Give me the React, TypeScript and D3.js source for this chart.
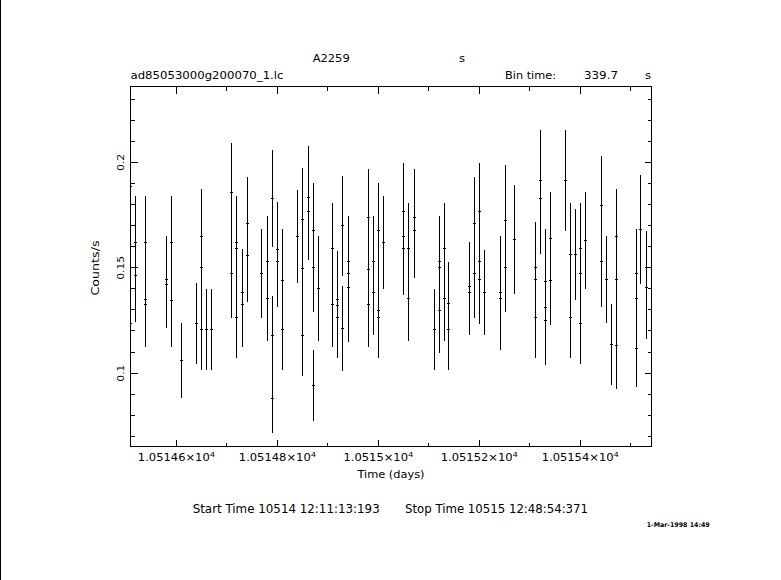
import React from "react";
import * as d3 from "d3";

const W = 781;
const H = 580;

// ---- data ----
const times: number[] = [
  10514.5095, 10514.5095, 10514.5192, 10514.5192, 10514.5192, 10514.539, 10514.539, 10514.539,
  10514.5798, 10514.5798, 10514.5897, 10514.5897, 10514.6095, 10514.6392, 10514.6491, 10514.6491,
  10514.6491, 10514.659, 10514.6689, 10514.7086, 10514.7086, 10514.7185, 10514.7185, 10514.7185,
  10514.7304, 10514.7304, 10514.7403, 10514.7403, 10514.768, 10514.7799, 10514.7799, 10514.7898,
  10514.7898, 10514.7898, 10514.7997, 10514.7997, 10514.8096, 10514.8096, 10514.8393, 10514.8496,
  10514.8496, 10514.8496, 10514.8611, 10514.8611, 10514.871, 10514.871, 10514.871, 10514.8809,
  10514.9087, 10514.9087, 10514.9186, 10514.9186, 10514.9186, 10514.9285, 10514.9285, 10514.9404,
  10514.9404, 10514.9404, 10514.98, 10514.98, 10514.98, 10514.9899, 10514.9899, 10514.9998,
  10514.9998, 10514.9998, 10515.0097, 10515.0493, 10515.0493, 10515.0493, 10515.0592, 10515.0592,
  10515.0711, 10515.0711, 10515.1108, 10515.1207, 10515.1207, 10515.1207, 10515.1306, 10515.1306,
  10515.1385, 10515.1385, 10515.1801, 10515.1801, 10515.19, 10515.19, 10515.1999, 10515.1999,
  10515.1999, 10515.2098, 10515.2415, 10515.2415, 10515.2514, 10515.2514, 10515.2692, 10515.3108,
  10515.3108, 10515.3108, 10515.3207, 10515.3207, 10515.3306, 10515.3306, 10515.3306, 10515.3405,
  10515.3405, 10515.3703, 10515.3802, 10515.3802, 10515.3901, 10515.4, 10515.4, 10515.4,
  10515.4099, 10515.4416, 10515.4416, 10515.4515, 10515.4614, 10515.4713, 10515.4713, 10515.4713,
  10515.5109, 10515.5109, 10515.5109, 10515.5188, 10515.5307, 10515.5307,
];

const rates: number[] = [
  0.1886, 0.1235, 0.1619, 0.1501, 0.1463, 0.1619, 0.1349, 0.1325,
  0.1445, 0.142, 0.1619, 0.1344, 0.106, 0.1235, 0.1649, 0.1501,
  0.1207, 0.1207, 0.1207, 0.1858, 0.1474, 0.1619, 0.1591, 0.1262,
  0.1382, 0.1325, 0.1709, 0.1558, 0.1474, 0.1529, 0.1354, 0.1828,
  0.1179, 0.088, 0.1588, 0.1529, 0.1439, 0.1207, 0.1649, 0.173,
  0.1496, 0.1179, 0.1833, 0.1766, 0.1676, 0.1501, 0.0942, 0.1401,
  0.1591, 0.1325, 0.1349, 0.1321, 0.1264, 0.17, 0.1212, 0.1529,
  0.1472, 0.1406, 0.1738, 0.1491, 0.1325, 0.1529, 0.1382, 0.1676,
  0.1297, 0.1264, 0.1619, 0.1766, 0.1648, 0.1591, 0.1591, 0.1354,
  0.1738, 0.1676, 0.1207, 0.1529, 0.1501, 0.1297, 0.1591, 0.1354,
  0.133, 0.1207, 0.1411, 0.1382, 0.1709, 0.1472, 0.1766, 0.1529,
  0.1444, 0.1382, 0.1382, 0.1354, 0.1725, 0.1501, 0.1633, 0.1501,
  0.1444, 0.1264, 0.1915, 0.1828, 0.1433, 0.1311, 0.1251, 0.1638,
  0.1439, 0.1915, 0.1562, 0.1264, 0.1562, 0.1591, 0.1472, 0.1235,
  0.1629, 0.1795, 0.1529, 0.1444, 0.1136, 0.1648, 0.1444, 0.1131,
  0.1472, 0.1354, 0.1117, 0.1682, 0.1501, 0.1406,
];

const errors: number[] = [
  0.0232, 0.0193, 0.022, 0.0212, 0.022, 0.022, 0.0201, 0.0201,
  0.0204, 0.0205, 0.022, 0.022, 0.0179, 0.0191, 0.0223, 0.0212,
  0.019, 0.0191, 0.0191, 0.0234, 0.0212, 0.022, 0.0218, 0.019,
  0.0205, 0.0201, 0.0224, 0.022, 0.021, 0.0215, 0.0201, 0.0231,
  0.0186, 0.0163, 0.0223, 0.0215, 0.0243, 0.019, 0.0221, 0.0242,
  0.0212, 0.0191, 0.0243, 0.0231, 0.0224, 0.021, 0.0167, 0.0248,
  0.0215, 0.0201, 0.0229, 0.0201, 0.0191, 0.0237, 0.0201, 0.0215,
  0.0212, 0.0258, 0.0229, 0.0212, 0.0201, 0.0215, 0.0201, 0.0224,
  0.0197, 0.0191, 0.0221, 0.0231, 0.0221, 0.022, 0.0215, 0.0201,
  0.0229, 0.0224, 0.019, 0.0215, 0.0212, 0.0201, 0.0215, 0.0201,
  0.0199, 0.019, 0.021, 0.0201, 0.0224, 0.021, 0.0231, 0.0215,
  0.0209, 0.0201, 0.0269, 0.0242, 0.0261, 0.021, 0.0259, 0.0215,
  0.0209, 0.0194, 0.0237, 0.0262, 0.025, 0.0201, 0.0212, 0.022,
  0.021, 0.0239, 0.0243, 0.0191, 0.0217, 0.0215, 0.021, 0.0191,
  0.0229, 0.0234, 0.0215, 0.0207, 0.0194, 0.0224, 0.0209, 0.0205,
  0.021, 0.0201, 0.0182, 0.0259, 0.0174, 0.0245,
];

const binSeconds = 339.7;

const xMajorTicks = [10514.6, 10514.8, 10515.0, 10515.2, 10515.4];
const xTickMantissas = ["1.05146", "1.05148", "1.0515", "1.05152", "1.05154"];
const xMinorTicks = [10514.7, 10514.9, 10515.1, 10515.3, 10515.5];
const yMajorTicks = [0.1, 0.15, 0.2];
const yTickLabels = ["0.1", "0.15", "0.2"];
const yMinorTicks = [0.07, 0.08, 0.09, 0.11, 0.12, 0.13, 0.14, 0.16, 0.17, 0.18, 0.19, 0.21, 0.22, 0.23];

const xDomain: [number, number] = [10514.5089, 10515.5411];
const yDomain: [number, number] = [0.0652, 0.236];

const FONT = "'DejaVu Sans', sans-serif";

export default function App() {
  const left = 130.5, right = 651.5, top = 86.5, bottom = 446.5;
  const x = d3.scaleLinear().domain(xDomain).range([left, right]);
  const y = d3.scaleLinear().domain(yDomain).range([bottom, top]);
  const halfBin = binSeconds / 2 / 86400;

  const pts = times.map((t, i) => ({ t, v: rates[i], e: errors[i] }));
  const majLen = 7, minLen = 4;

  return (
    <svg
      width={W}
      height={H}
      style={{ position: "absolute", left: 0, top: 0, background: "#fff" }}
      fontFamily={FONT}
    >
      <rect x={0} y={0} width={W} height={H} fill="#fff" />
      <line x1={0.5} x2={0.5} y1={0} y2={H} stroke="#000" strokeWidth={1} />
      <defs>
        <clipPath id="plotclip">
          <rect x={left + 0.5} y={top} width={right - left - 0.5} height={bottom - top} />
        </clipPath>
      </defs>

      {/* error bars */}
      <g clipPath="url(#plotclip)" stroke="#000" strokeWidth={1} shapeRendering="crispEdges">
        {pts.map((p, i) => {
          const cx = Math.floor(x(p.t)) + 0.5;
          const hw = x(p.t + halfBin) - x(p.t);
          const cy = Math.floor(y(p.v)) + 0.5;
          return (
            <g key={i}>
              <line x1={cx} x2={cx} y1={y(p.v + p.e)} y2={y(p.v - p.e)} />
              <line x1={cx - hw - 0.5} x2={cx + hw + 0.5} y1={cy} y2={cy} />
            </g>
          );
        })}
      </g>

      {/* frame & ticks */}
      <g stroke="#000" strokeWidth={1} shapeRendering="crispEdges" fill="none">
        <rect x={left} y={top} width={right - left} height={bottom - top} />
        {xMajorTicks.map((t) => {
          const px = Math.round(x(t) - 0.5) + 0.5;
          return (
            <g key={"xM" + t}>
              <line x1={px} x2={px} y1={bottom} y2={bottom - majLen} />
              <line x1={px} x2={px} y1={top} y2={top + majLen} />
            </g>
          );
        })}
        {xMinorTicks.map((t) => {
          const px = Math.round(x(t) - 0.5) + 0.5;
          return (
            <g key={"xm" + t}>
              <line x1={px} x2={px} y1={bottom} y2={bottom - minLen} />
              <line x1={px} x2={px} y1={top} y2={top + minLen} />
            </g>
          );
        })}
        {yMajorTicks.map((v) => {
          const py = Math.round(y(v) - 0.5) + 0.5;
          return (
            <g key={"yM" + v}>
              <line x1={left} x2={left + majLen} y1={py} y2={py} />
              <line x1={right} x2={right - majLen} y1={py} y2={py} />
            </g>
          );
        })}
        {yMinorTicks.map((v) => {
          const py = Math.round(y(v) - 0.5) + 0.5;
          return (
            <g key={"ym" + v}>
              <line x1={left} x2={left + minLen} y1={py} y2={py} />
              <line x1={right} x2={right - minLen} y1={py} y2={py} />
            </g>
          );
        })}
      </g>

      {/* x tick labels */}
      {xMajorTicks.map((t, i) => (
        <g key={"xl" + t} transform={`translate(${x(t)},461) scale(1.2,1)`}>
          <text textAnchor="middle" fontSize={9.6} fill="#000">
            {xTickMantissas[i]}×10
            <tspan fontSize={7} dy={-4.5}>4</tspan>
          </text>
        </g>
      ))}

      {/* y tick labels */}
      {yMajorTicks.map((v, i) => (
        <g key={"yl" + v} transform={`translate(123.5,${y(v)}) rotate(-90) scale(1.12,1)`}>
          <text textAnchor="middle" fontSize={9.6} fill="#000">
            {yTickLabels[i]}
          </text>
        </g>
      ))}

      {/* axis labels */}
      <text x={391} y={478} textAnchor="middle" fontSize={9.6} textLength={67} lengthAdjust="spacingAndGlyphs">
        Time (days)
      </text>
      <g transform="translate(98.5,268) rotate(-90)">
        <text textAnchor="middle" fontSize={9.6} textLength={55} lengthAdjust="spacingAndGlyphs">
          Counts/s
        </text>
      </g>

      {/* header */}
      <text x={312.7} y={62} fontSize={9.6} textLength={37} lengthAdjust="spacingAndGlyphs">A2259</text>
      <g transform="translate(459,62) scale(1.2,1)">
        <text fontSize={9.6}>s</text>
      </g>
      <text x={130.5} y={78.5} fontSize={9.6} textLength={153} lengthAdjust="spacingAndGlyphs">
        ad85053000g200070_1.lc
      </text>
      <text x={505} y={78.5} fontSize={9.6} textLength={51} lengthAdjust="spacingAndGlyphs">Bin time:</text>
      <text x={584} y={78.5} fontSize={9.6} textLength={34} lengthAdjust="spacingAndGlyphs">339.7</text>
      <g transform="translate(645,78.5) scale(1.2,1)">
        <text fontSize={9.6}>s</text>
      </g>

      {/* footer */}
      <text x={192.7} y={512.5} fontSize={12} textLength={187} lengthAdjust="spacingAndGlyphs">
        Start Time 10514 12:11:13:193
      </text>
      <text x={405} y={512.5} fontSize={12} textLength={183} lengthAdjust="spacingAndGlyphs">
        Stop Time 10515 12:48:54:371
      </text>
      <text x={646.7} y={527} fontSize={6.5} fontWeight="bold" textLength={63} lengthAdjust="spacingAndGlyphs">
        1-Mar-1998 14:49
      </text>
    </svg>
  );
}
